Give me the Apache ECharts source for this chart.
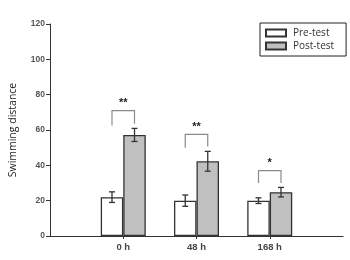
<!DOCTYPE html>
<html>
<head>
<meta charset="utf-8">
<script src="https://cdn.jsdelivr.net/npm/echarts@6/dist/echarts.min.js"></script>
<style>
  html, body { margin: 0; padding: 0; background: #fff; }
  #chart { width: 350px; height: 260px; }
</style>
</head>
<body>
<div id="chart"></div>
<script>
// categories (padded with empty slots so the groups sit at 1/4, 2/4, 3/4 of the axis)
const categories = ['', '0 h', '48 h', '168 h', ''];
const groupIndex = [1, 2, 3];

const preTest = [22, 20, 20];
const preErr = [3, 3.2, 1.6];
const postTest = [57.2, 42.3, 24.8];
const postErr = [3.7, 5.6, 2.7];

// significance brackets: top of bracket, bottom of left leg, bottom of right leg, label
const bracketTop = [71, 57.5, 37];
const bracketLeft = [62.5, 50, 30];
const bracketRight = [63.5, 50.6, 30];
const stars = ['**', '**', '*'];

const BAR_W = 22.5;

function errorSeries(vals, errs, side) {
  return {
    type: 'custom',
    z: 5,
    silent: true,
    data: vals.map((v, i) => [groupIndex[i], v, errs[i]]),
    renderItem: function (params, api) {
      const top = api.coord([api.value(0), api.value(1) + api.value(2)]);
      const bot = api.coord([api.value(0), api.value(1) - api.value(2)]);
      const x = top[0] + side * BAR_W / 2;
      const cap = 3;
      const style = { stroke: '#333', lineWidth: 1.3 };
      return {
        type: 'group',
        children: [
          { type: 'line', shape: { x1: x, y1: top[1], x2: x, y2: bot[1] }, style },
          { type: 'line', shape: { x1: x - cap, y1: top[1], x2: x + cap, y2: top[1] }, style },
          { type: 'line', shape: { x1: x - cap, y1: bot[1], x2: x + cap, y2: bot[1] }, style }
        ]
      };
    }
  };
}

const chart = echarts.init(document.getElementById('chart'));

const option = {
  animation: false,
  grid: { left: 45, right: 7, top: 24, bottom: 24, containLabel: false },
  legend: {
    orient: 'vertical',
    left: 260,
    top: 23,
    width: 84,
    data: ['Pre-test', 'Post-test'],
    icon: 'rect',
    itemWidth: 20,
    itemHeight: 7,
    itemGap: 3,
    padding: [5, 12, 5, 5],
    borderColor: '#222',
    borderWidth: 1,
    textStyle: { fontFamily: 'Open Sans', fontSize: 10, color: '#333', padding: [0, 0, 0, 2] }
  },
  xAxis: {
    type: 'category',
    data: categories,
    boundaryGap: false,
    axisLine: { lineStyle: { color: '#333', width: 1 } },
    axisTick: {
      length: 3,
      interval: function (idx) { return idx > 0 && idx < categories.length - 1; },
      lineStyle: { color: '#333' }
    },
    axisLabel: {
      fontFamily: 'Liberation Sans',
      fontWeight: 'bold',
      fontSize: 9.5,
      color: '#444',
      margin: 6
    },
    splitLine: { show: false }
  },
  yAxis: {
    type: 'value',
    min: 0,
    max: 120,
    interval: 20,
    name: 'Swimming distance',
    nameLocation: 'middle',
    nameGap: 31,
    nameTextStyle: { fontFamily: 'Open Sans', fontSize: 10.5, color: '#222' },
    axisLine: { show: true, lineStyle: { color: '#333', width: 1 } },
    axisTick: { show: true, length: 4, lineStyle: { color: '#333' } },
    axisLabel: {
      fontFamily: 'Liberation Sans',
      fontWeight: 'bold',
      fontSize: 8.5,
      color: '#555',
      margin: 5
    },
    splitLine: { show: false }
  },
  series: [
    {
      name: 'Pre-test',
      type: 'bar',
      barWidth: BAR_W,
      barGap: '0%',
      data: preTest.map((v, i) => [groupIndex[i], v]),
      itemStyle: { color: '#ffffff', borderColor: '#333', borderWidth: 1.3 }
    },
    {
      name: 'Post-test',
      type: 'bar',
      barWidth: BAR_W,
      barGap: '0%',
      data: postTest.map((v, i) => [groupIndex[i], v]),
      itemStyle: { color: '#c0c0c0', borderColor: '#333', borderWidth: 1.3 }
    },
    errorSeries(preTest, preErr, -1),
    errorSeries(postTest, postErr, 1),
    {
      type: 'custom',
      silent: true,
      z: 6,
      data: bracketTop.map((v, i) => [groupIndex[i], v, bracketLeft[i], bracketRight[i]]),
      renderItem: function (params, api) {
        const t = api.coord([api.value(0), api.value(1)]);
        const l = api.coord([api.value(0), api.value(2)]);
        const r = api.coord([api.value(0), api.value(3)]);
        const xl = t[0] - BAR_W / 2;
        const xr = t[0] + BAR_W / 2;
        const style = { stroke: '#8a8a8a', lineWidth: 1.2 };
        return {
          type: 'group',
          children: [
            { type: 'polyline', shape: { points: [[xl, l[1]], [xl, t[1]], [xr, t[1]], [xr, r[1]]] }, style: Object.assign({ fill: null }, style) },
            {
              type: 'text',
              x: t[0],
              y: t[1] - 2,
              style: {
                text: stars[params.dataIndex],
                fill: '#222',
                font: 'bold 11px Liberation Sans',
                align: 'center',
                verticalAlign: 'bottom'
              }
            }
          ]
        };
      }
    }
  ]
};

chart.setOption(option);
</script>
</body>
</html>
